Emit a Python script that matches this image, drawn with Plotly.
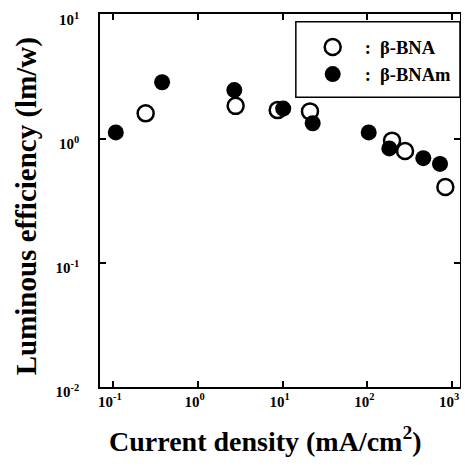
import plotly.graph_objects as go

# current density (mA/cm2) and luminous efficiency (lm/W)
bna_x = [0.243, 2.8, 8.77, 21.1, 196, 279, 834]
bna_y = [1.61, 1.85, 1.71, 1.67, 0.97, 0.80, 0.41]

bnam_x = [0.108, 0.38, 2.7, 10.2, 22.7, 104, 182, 458, 721]
bnam_y = [1.13, 2.87, 2.48, 1.76, 1.34, 1.13, 0.84, 0.70, 0.63]

x_ticks = [0.1, 1, 10, 100, 1000]
x_labels = ['10<sup>-1</sup>', '10<sup>0</sup>', '10<sup>1</sup>', '10<sup>2</sup>', '10<sup>3</sup>']
y_ticks = [0.01, 0.1, 1, 10]
y_labels = ['10<sup>-2</sup>', '10<sup>-1</sup>', '10<sup>0</sup>', '10<sup>1</sup>']

serif = 'Liberation Serif'


def main():
    fig = go.Figure()
    fig.add_trace(go.Scatter(
        x=bna_x, y=bna_y, mode='markers', name=':  β-BNA',
        marker=dict(symbol='circle-open', size=16, color='black', line=dict(width=2.5)),
    ))
    fig.add_trace(go.Scatter(
        x=bnam_x, y=bnam_y, mode='markers', name=':  β-BNAm',
        marker=dict(symbol='circle', size=16, color='black'),
    ))

    # the page body adds an 8px margin; keep the figure inside the window
    fig.update_layout(
        width=453, height=456,
        margin=dict(l=92, r=1, t=6, b=77),
        plot_bgcolor='white', paper_bgcolor='white',
        font=dict(family=serif, color='black', size=14, weight='bold'),
        showlegend=True,
        legend=dict(
            x=0.5575, y=0.874, xanchor='left', yanchor='middle',
            borderwidth=0, bgcolor='rgba(0,0,0,0)',
            font=dict(size=18.5, family=serif, weight='bold'),
            itemwidth=54, tracegroupgap=0,
        ),
        shapes=[dict(
            type='rect', xref='paper', yref='paper',
            x0=0.544, x1=1.0, y0=0.777, y1=0.979,
            line=dict(color='black', width=1.5), fillcolor='white', layer='below',
        )],
        annotations=[
            dict(text='Current density (mA/cm<sup>2</sup>)', xref='paper', yref='paper',
                 x=0.461, y=-0.142, showarrow=False, xanchor='center', yanchor='middle',
                 font=dict(size=28, family=serif, weight='bold')),
            dict(text='Luminous efficiency (lm/w)', xref='paper', yref='paper',
                 x=-92 / 360, y=0.483, showarrow=False, textangle=-90,
                 xanchor='left', yanchor='middle',
                 font=dict(size=29, family=serif, weight='bold')),
        ],
    )
    fig.update_xaxes(
        type='log', range=[-1.153, 3.094], automargin=False,
        tickvals=x_ticks, ticktext=x_labels, ticklabeloverflow='allow',
        ticklabelshift=-3,
        ticks='inside', ticklen=6, tickwidth=1.5, tickcolor='black',
        showline=True, linewidth=1.5, linecolor='black', mirror='ticks',
        showgrid=False, zeroline=False,
        tickfont=dict(size=15),
    )
    fig.update_yaxes(
        type='log', range=[-2, 1.008], automargin=False,
        tickvals=y_ticks, ticktext=y_labels, ticklabelstandoff=16,
        ticklabeloverflow='allow', ticklabelshift=5,
        ticks='inside', ticklen=6, tickwidth=1.5, tickcolor='black',
        showline=True, linewidth=1.5, linecolor='black', mirror='ticks',
        showgrid=False, zeroline=False,
        tickfont=dict(size=15),
    )
    fig.write_html('out.html')


if __name__ == '__main__':
    main()
